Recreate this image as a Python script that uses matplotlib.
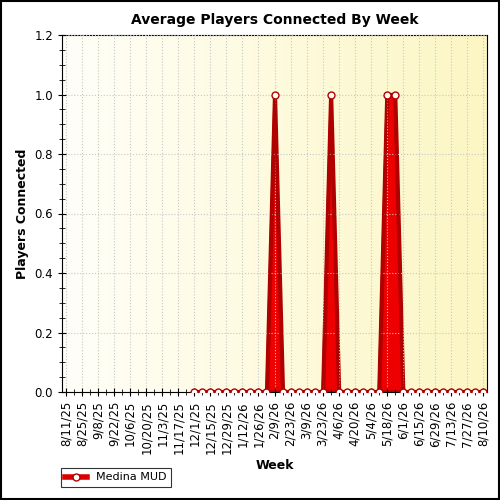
import numpy as np
import matplotlib
matplotlib.use("Agg")
from matplotlib import pyplot as plt
import datetime as dt

start = dt.date(2025, 8, 11)
weeks = [start + dt.timedelta(weeks=i) for i in range(53)]
week_labels = [str(d.month) + "/" + str(d.day) + "/" + str(d.year % 100) for d in weeks]

# values only known from 12/1/25 on
first = 16
players = [0]*37
players[26 - first] = 1.0
players[33 - first] = 1.0
players[40 - first] = 1.0
players[41 - first] = 1.0

fig = plt.figure(figsize=(5, 5), dpi=100)
ax = fig.add_axes([0.124, 0.216, 0.85, 0.714])

grad = np.linspace(0, 1, 256).reshape(1, -1)
cmap = matplotlib.colors.LinearSegmentedColormap.from_list("bg", ["#fffff8", "#fcf6c4"])
ax.imshow(grad, extent=[-0.5, 52.5, 0, 1.2], aspect="auto", cmap=cmap, zorder=0)

x = np.arange(first, 53)
y = np.array(players)
ax.fill_between(x, 0, y, color="#ee0000", edgecolor="#b00000", linewidth=3, zorder=2)
ax.plot(x, y, color="#b00000", linewidth=1.5, marker="o", markersize=5,
        markerfacecolor="white", markeredgecolor="#b00000", zorder=3, label="Medina MUD")

ax.set_xlim(-0.5, 52.5)
ax.set_ylim(0, 1.2)
ax.set_xticks(np.arange(0, 53, 2))
ax.set_xticklabels(week_labels[::2], rotation=90, fontsize=8.5)
ax.set_xticks(np.arange(0, 53), minor=True)
ax.set_yticks(np.arange(0, 1.21, 0.2))
ax.set_yticklabels(["%.1f" % v for v in np.arange(0, 1.21, 0.2)], fontsize=8.5)
ax.set_yticks(np.arange(0, 1.21, 0.05), minor=True)
ax.tick_params(direction="inout", length=6, colors="black")
ax.tick_params(which="minor", direction="inout", length=4)
ax.grid(True, which="major", color="#c8c8c8", linestyle=":", linewidth=0.8)
ax.set_axisbelow(False)

ax.set_title("Average Players Connected By Week", fontsize=10, fontweight="bold", pad=8)
ax.set_xlabel("Week", fontsize=9, fontweight="bold")
ax.set_ylabel("Players Connected", fontsize=9, fontweight="bold")

leg = fig.legend(loc="lower left", bbox_to_anchor=(0.11, 0.015), fontsize=8,
                 frameon=True, fancybox=False, edgecolor="black")
leg.get_frame().set_linewidth(0.8)
leg.get_lines()[0].set_linewidth(4)
leg.get_lines()[0].set_color("#dd0000")

fig.patches.append(matplotlib.patches.Rectangle((0.002, 0.002), 0.996, 0.996,
                   transform=fig.transFigure, fill=False, edgecolor="black", linewidth=1.5))

fig.savefig("out.png", dpi=100)
